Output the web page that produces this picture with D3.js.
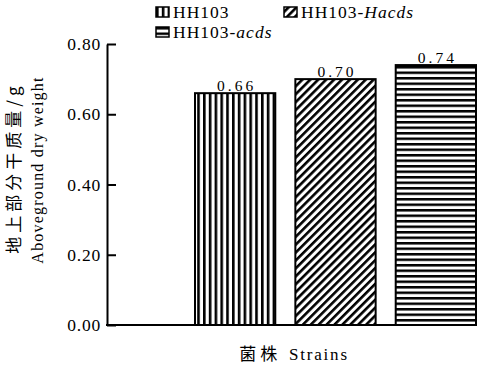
<!DOCTYPE html>
<html>
<head>
<meta charset="utf-8">
<style>
  body { margin: 0; background: #fff; }
  svg text { font-family: "Liberation Serif", "DejaVu Serif", serif; fill: #000; }
  .y .domain { stroke: #000; stroke-width: 2px; }
  .y .tick line { stroke: #000; stroke-width: 2px; }
  .y .tick text { font-family: "Liberation Serif", "DejaVu Serif", serif; font-size: 17.5px; letter-spacing: 0.8px; }
  .lbl { font-size: 15.5px; letter-spacing: 3px; }
  svg text.cjk, svg tspan.cjk { font-family: "Noto Sans CJK SC", sans-serif; }
</style>
</head>
<body>
<svg width="477" height="370"></svg>
<script src="https://d3js.org/d3.v7.min.js"></script>
<script>
let strains = ["HH103", "HH103-Hacds", "HH103-acds"];
let weights = [0.66, 0.70, 0.74];
let yTicks = [0, 0.2, 0.4, 0.6, 0.8];
let patterns = ["vert", "diag", "horiz"];

let svg = d3.select("svg");
let plotLeft = 107, plotRight = 476, plotTop = 44, plotBottom = 325;

let x = d3.scaleBand()
    .domain(strains)
    .range([195, plotRight])
    .paddingInner(0.2)
    .paddingOuter(0);

let y = d3.scaleLinear()
    .domain([0, 0.8])
    .range([plotBottom, plotTop]);

// hatch patterns
let defs = svg.append("defs");
defs.append("pattern").attr("id", "vert")
    .attr("patternUnits", "userSpaceOnUse").attr("width", 5.8).attr("height", 10)
    .append("rect").attr("x", 0).attr("y", 0).attr("width", 2.6).attr("height", 10).attr("fill", "#000");
defs.append("pattern").attr("id", "horiz")
    .attr("patternUnits", "userSpaceOnUse").attr("width", 10).attr("height", 5.5)
    .append("rect").attr("x", 0).attr("y", 0).attr("width", 10).attr("height", 2.5).attr("fill", "#000");
defs.append("pattern").attr("id", "diag")
    .attr("patternUnits", "userSpaceOnUse").attr("width", 5.6).attr("height", 6)
    .attr("patternTransform", "rotate(45)")
    .append("rect").attr("x", 0).attr("y", 0).attr("width", 2.6).attr("height", 6).attr("fill", "#000");

// bars
svg.append("g").selectAll("rect")
    .data(strains)
    .join("rect")
    .attr("x", d => x(d))
    .attr("y", (d, i) => y(weights[i]))
    .attr("width", x.bandwidth())
    .attr("height", (d, i) => y(0) - y(weights[i]))
    .attr("fill", (d, i) => `url(#${patterns[i]})`)
    .attr("stroke", "#000")
    .attr("stroke-width", 2);

svg.append("g").selectAll("text")
    .data(strains)
    .join("text")
    .attr("class", "lbl")
    .attr("x", d => x(d) + x.bandwidth() / 2 + 1.5)
    .attr("y", (d, i) => y(weights[i]) - 2)
    .attr("text-anchor", "middle")
    .text((d, i) => d3.format(".2f")(weights[i]));

// axes
svg.append("g")
    .attr("class", "y")
    .attr("transform", `translate(${plotLeft},0)`)
    .call(d3.axisLeft(y).tickValues(yTicks).tickFormat(d3.format(".2f")).tickSizeInner(-9).tickSizeOuter(0).tickPadding(6));

svg.append("line")
    .attr("x1", plotLeft - 1).attr("x2", 477)
    .attr("y1", y(0)).attr("y2", y(0))
    .attr("stroke", "#000").attr("stroke-width", 2);

// axis titles
svg.append("text")
    .attr("class", "cjk")
    .attr("transform", `translate(20,168) rotate(-90)`)
    .attr("text-anchor", "middle")
    .style("font-size", "17px")
    .style("letter-spacing", "4px")
    .text("地上部分干质量/g");
svg.append("text")
    .attr("transform", `translate(43,170) rotate(-90)`)
    .attr("text-anchor", "middle")
    .style("font-size", "16px")
    .style("letter-spacing", "1.2px")
    .text("Aboveground dry weight");
let xt = svg.append("text")
    .attr("x", 294).attr("y", 360)
    .attr("text-anchor", "middle")
    .style("font-size", "17px")
    .style("letter-spacing", "1.8px");
xt.append("tspan").attr("class", "cjk").style("letter-spacing", "4px").text("菌株 ");
xt.append("tspan").text("Strains");

// legend
let legendPos = [[156, 18], [284, 18], [156, 38]];
let lg = svg.append("g").selectAll("g")
    .data(strains)
    .join("g")
    .attr("transform", (d, i) => `translate(${legendPos[i][0]},${legendPos[i][1]})`);
lg.append("rect")
    .attr("x", 0).attr("y", -11).attr("width", 13).attr("height", 10)
    .attr("fill", (d, i) => `url(#${patterns[i]})`)
    .attr("stroke", "#000").attr("stroke-width", 1.5);
let lt = lg.append("text")
    .attr("x", 17).attr("y", 0)
    .style("font-size", "17.5px")
    .style("letter-spacing", "1px");
lt.append("tspan").text("HH103");
lt.filter(d => d !== "HH103").append("tspan").text("-");
lt.filter(d => d !== "HH103").append("tspan")
    .style("font-style", "italic")
    .text(d => d.split("-")[1]);
</script>
</body>
</html>
